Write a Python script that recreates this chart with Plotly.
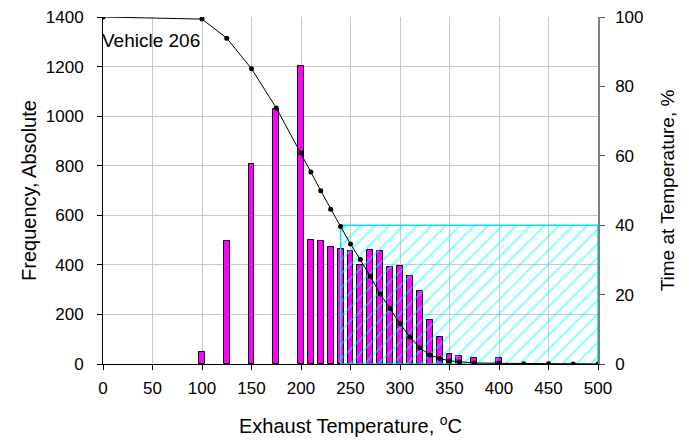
import plotly.graph_objects as go

# Frequency histogram (left axis)
bar_temp = [100, 125, 150, 175, 200, 210, 220, 230, 240, 250, 260, 270, 280, 290,
            300, 310, 320, 330, 340, 350, 360, 375, 400]
bar_freq = [48, 496, 805, 1030, 1203, 500, 495, 472, 463, 455, 401, 461, 457, 392,
            397, 356, 295, 176, 108, 42, 34, 26, 24]

# Time at temperature, % (right axis)
line_temp = [0, 100, 125, 150, 175, 200, 210, 220, 230, 240, 250, 260, 270, 280,
             290, 300, 310, 320, 330, 340, 350, 360, 375, 400, 425, 450, 475, 500]
line_pct = [100, 99.4, 93.9, 85.1, 73.8, 60.8, 55.3, 49.9, 44.6, 39.6, 34.6, 30.1,
            25.3, 20.2, 16.0, 11.6, 7.8, 4.7, 2.6, 1.6, 0.9, 0.6, 0.3, 0.2, 0.1,
            0.1, 0.0, 0.0]

# Hatched region (temperature range and % bound)
zone_temp = [240, 500, 500, 240, 240]
zone_pct = [0, 0, 40, 40, 0]

x_ticks = [0, 50, 100, 150, 200, 250, 300, 350, 400, 450, 500]
y_ticks = [0, 200, 400, 600, 800, 1000, 1200, 1400]
y2_ticks = [0, 20, 40, 60, 80, 100]

FONT = "Liberation Sans, Arial, sans-serif"

fig = go.Figure()

fig.add_trace(go.Bar(
    x=bar_temp, y=bar_freq, width=6,
    marker=dict(color="#FF00FF", line=dict(color="black", width=1)),
    yaxis="y", showlegend=False,
))

fig.add_trace(go.Scatter(
    x=zone_temp, y=zone_pct, yaxis="y2", mode="lines",
    fill="toself", fillcolor="rgba(0,0,0,0)",
    fillpattern=dict(shape="/", fgcolor="#00FFFF", bgcolor="rgba(0,0,0,0)",
                     size=10, solidity=0.2),
    line=dict(color="#00E5E5", width=1.5),
    showlegend=False, hoverinfo="skip",
))

fig.add_trace(go.Scatter(
    x=line_temp, y=line_pct, yaxis="y2", mode="lines+markers",
    line=dict(color="black", width=1),
    marker=dict(color="black", size=5),
    showlegend=False,
))

fig.add_annotation(
    x=0, y=1307, xref="x", yref="y", text="Vehicle 206", showarrow=False,
    xanchor="left", yanchor="middle", xshift=-3,
    font=dict(size=19, color="black", family=FONT),
)

fig.update_layout(
    width=681, height=432,
    margin=dict(l=95, r=91, t=9, b=76, autoexpand=False),
    paper_bgcolor="white", plot_bgcolor="white",
    font=dict(family=FONT, size=17, color="black"),
    bargap=0,
    xaxis=dict(
        range=[0, 500], tickvals=x_ticks, ticks="outside", ticklen=5,
        tickcolor="black", showline=True, linecolor="black", linewidth=1,
        showgrid=True, gridcolor="#C8C8C8", gridwidth=1, zeroline=False,
        tickfont=dict(size=17), ticklabelstandoff=4, ticklabeloverflow="allow",
        title=dict(text="Exhaust Temperature, <sup>o</sup>C", font=dict(size=20), standoff=21),
    ),
    yaxis=dict(
        range=[0, 1400], tickvals=y_ticks, ticks="outside", ticklen=5,
        tickcolor="black", showline=True, linecolor="black", linewidth=1,
        showgrid=True, gridcolor="#C8C8C8", gridwidth=1, zeroline=False,
        tickfont=dict(size=17), ticklabelstandoff=10, ticklabeloverflow="allow",
        title=dict(text="Frequency, Absolute", font=dict(size=20), standoff=3),
    ),
    yaxis2=dict(
        range=[0, 100], tickvals=y2_ticks, overlaying="y", side="right",
        ticks="outside", ticklen=5, tickcolor="#555555",
        showline=True, linecolor="#808080", linewidth=1.5,
        showgrid=False, zeroline=False,
        tickfont=dict(size=17), ticklabelstandoff=7, ticklabeloverflow="allow",
        title=dict(text="Time at Temperature, %", font=dict(size=19), standoff=18),
    ),
)

fig.write_html("out.html")
